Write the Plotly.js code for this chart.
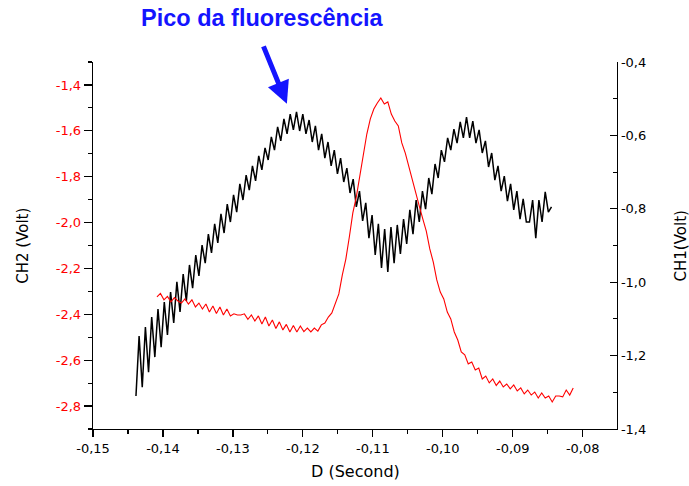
<!DOCTYPE html>
<html>
<head>
<meta charset="utf-8">
<script src="https://cdn.plot.ly/plotly-3.0.1.min.js"></script>
<style>
html,body{margin:0;padding:0;background:#fff;}
#chart{width:689px;height:486px;}
</style>
</head>
<body>
<div id="chart"></div>
<script>
// CH1 (black, right axis) – uniformly sampled
const ch1Start = -0.14386;
const ch1Step = 0.00045;
const ch1Values = [
-1.310,-1.147,-1.286,-1.122,-1.245,-1.095,-1.204,-1.073,-1.177,-1.054,
-1.144,-1.027,-1.111,-0.999,-1.081,-0.978,-1.051,-0.953,-1.016,-0.926,
-0.983,-0.899,-0.948,-0.869,-0.920,-0.841,-0.893,-0.814,-0.866,-0.787,
-0.836,-0.762,-0.809,-0.732,-0.776,-0.708,-0.749,-0.683,-0.724,-0.656,
-0.694,-0.634,-0.667,-0.604,-0.640,-0.577,-0.615,-0.555,-0.596,-0.542,
-0.585,-0.536,-0.588,-0.542,-0.596,-0.558,-0.618,-0.574,-0.640,-0.596,
-0.662,-0.618,-0.683,-0.640,-0.705,-0.662,-0.727,-0.689,-0.757,-0.719,
-0.795,-0.752,-0.833,-0.784,-0.880,-0.817,-0.926,-0.841,-0.961,-0.855,
-0.972,-0.850,-0.948,-0.844,-0.923,-0.828,-0.896,-0.803,-0.869,-0.776,
-0.836,-0.752,-0.801,-0.716,-0.760,-0.678,-0.716,-0.640,-0.672,-0.607,
-0.640,-0.583,-0.621,-0.563,-0.607,-0.550,-0.607,-0.561,-0.621,-0.585,
-0.648,-0.615,-0.686,-0.648,-0.722,-0.683,-0.752,-0.711,-0.779,-0.732,
-0.803,-0.752,-0.828,-0.773,-0.836,-0.836,-0.776,-0.880,-0.776,-0.836,
-0.754,-0.809,-0.795
];

// CH2 (red, left axis) – uniformly sampled
const ch2Start = -0.14086;
const ch2Step = 0.0005;
const ch2Values = [
-2.324,-2.309,-2.337,-2.322,-2.346,-2.327,-2.342,-2.351,-2.333,-2.355,
-2.337,-2.368,-2.351,-2.377,-2.355,-2.390,-2.364,-2.396,-2.368,-2.403,
-2.377,-2.407,-2.398,-2.403,-2.403,-2.398,-2.422,-2.403,-2.429,-2.407,
-2.442,-2.412,-2.451,-2.425,-2.462,-2.433,-2.468,-2.444,-2.477,-2.449,
-2.477,-2.451,-2.475,-2.460,-2.477,-2.460,-2.473,-2.446,-2.438,-2.412,
-2.394,-2.351,-2.311,-2.228,-2.159,-2.063,-1.958,-1.888,-1.797,-1.710,
-1.614,-1.548,-1.505,-1.479,-1.457,-1.483,-1.474,-1.527,-1.557,-1.579,
-1.653,-1.697,-1.758,-1.810,-1.875,-1.928,-1.984,-2.037,-2.115,-2.172,
-2.250,-2.303,-2.333,-2.390,-2.420,-2.477,-2.512,-2.564,-2.577,-2.616,
-2.608,-2.643,-2.634,-2.682,-2.669,-2.699,-2.682,-2.710,-2.691,-2.717,
-2.704,-2.725,-2.708,-2.734,-2.721,-2.747,-2.730,-2.752,-2.739,-2.765,
-2.743,-2.765,-2.756,-2.782,-2.756,-2.756,-2.760,-2.730,-2.752,-2.721
];

const xTickLabels = ['-0,15','-0,14','-0,13','-0,12','-0,11','-0,10','-0,09','-0,08'];
const leftTickLabels = ['-2,8','-2,6','-2,4','-2,2','-2,0','-1,8','-1,6','-1,4'];
const rightTickLabels = ['-1,4','-1,2','-1,0','-0,8','-0,6','-0,4'];

const xTitle = 'D (Second)';
const leftTitle = 'CH2 (Volt)';
const rightTitle = 'CH1(Volt)';
const noteText = 'Pico da fluorescência';

const ch1Time = ch1Values.map((_, i) => ch1Start + i * ch1Step);
const ch2Time = ch2Values.map((_, i) => ch2Start + i * ch2Step);

// plotly formats negatives with U+2212; alias them to the plain hyphen labels of the original
function alias(labels) {
  const o = {};
  labels.forEach(s => { o[s.replace('-', '\u2212')] = s; });
  return o;
}

const font = 'DejaVu Sans, sans-serif';

const traces = [
  {x: ch1Time, y: ch1Values, type: 'scatter', mode: 'lines', xaxis: 'x', yaxis: 'y',
   line: {color: '#000000', width: 1.5}, hoverinfo: 'skip'},
  {x: ch2Time, y: ch2Values, type: 'scatter', mode: 'lines', xaxis: 'x', yaxis: 'y2',
   line: {color: '#ff0000', width: 1.1}, hoverinfo: 'skip'}
];

const xr = [-0.15, -0.0751];
const layout = {
  width: 689, height: 486,
  margin: {l: 93, r: 72, t: 62, b: 57},
  paper_bgcolor: '#ffffff', plot_bgcolor: '#ffffff',
  showlegend: false,
  separators: ',.',
  font: {family: font, size: 13, color: '#000'},
  xaxis: {
    range: xr, dtick: 0.01, tick0: -0.15, tickformat: '.2f', labelalias: alias(xTickLabels),
    ticks: 'outside', ticklen: 7, tickwidth: 1.2, tickcolor: '#000',
    minor: {ticks: 'outside', ticklen: 4, dtick: 0.005, tickwidth: 1.2, tickcolor: '#000', showgrid: false},
    showline: true, linecolor: '#000', linewidth: 1.3,
    showgrid: false, zeroline: false,
    tickfont: {family: font, size: 13, color: '#000'}
  },
  xaxis2: {
    overlaying: 'x', side: 'top', anchor: 'y', range: xr, dtick: 0.01, tick0: -0.15,
    ticks: 'inside', ticklen: 7, tickwidth: 1.2, tickcolor: '#000',
    minor: {ticks: 'inside', ticklen: 4, dtick: 0.005, tickwidth: 1.2, tickcolor: '#000', showgrid: false},
    showline: true, linecolor: '#000', linewidth: 1.3,
    showticklabels: false, showgrid: false, zeroline: false
  },
  yaxis: {
    side: 'right', range: [-1.4, -0.4], dtick: 0.2, tick0: -1.4, tickformat: '.1f', labelalias: alias(rightTickLabels),
    ticks: 'inside', ticklen: 7, tickwidth: 1.2, tickcolor: '#000',
    minor: {ticks: 'inside', ticklen: 4, dtick: 0.1, tickwidth: 1.2, tickcolor: '#000', showgrid: false},
    showline: true, linecolor: '#000', linewidth: 1.3,
    showgrid: false, zeroline: false,
    tickfont: {family: font, size: 13, color: '#000'}
  },
  yaxis2: {
    overlaying: 'y', side: 'left', anchor: 'x', range: [-2.9, -1.3], dtick: 0.2, tick0: -2.8, tickformat: '.1f',
    labelalias: alias(leftTickLabels),
    ticks: 'outside', ticklen: 8, tickwidth: 1.2, tickcolor: '#000',
    minor: {ticks: 'outside', ticklen: 4, dtick: 0.1, tickwidth: 1.2, tickcolor: '#000', showgrid: false},
    showline: true, linecolor: '#000', linewidth: 1.3,
    showgrid: false, zeroline: false,
    tickfont: {family: font, size: 13, color: '#ff0000'}
  },
  annotations: [
    {text: xTitle, xref: 'paper', yref: 'paper', x: 0.5, y: -0.117, xanchor: 'center', yanchor: 'middle',
     showarrow: false, font: {family: font, size: 16, color: '#000'}},
    {text: leftTitle, xref: 'paper', yref: 'paper', x: -0.135, y: 0.5, xanchor: 'center', yanchor: 'middle',
     textangle: -90, showarrow: false, font: {family: font, size: 15, color: '#000'}},
    {text: rightTitle, xref: 'paper', yref: 'paper', x: 1.122, y: 0.5, xanchor: 'center', yanchor: 'middle',
     textangle: -90, showarrow: false, font: {family: font, size: 15, color: '#000'}},
    {text: '<b>' + noteText + '</b>', xref: 'paper', yref: 'paper', x: 0.323, y: 1.12, xanchor: 'center', yanchor: 'middle',
     showarrow: false, font: {family: 'Liberation Sans, Arial, sans-serif', size: 23.5, color: '#1414ff'}},
    {text: '', xref: 'paper', yref: 'paper', x: 0.370, y: 0.886, showarrow: true,
     ax: -24, ay: -59, arrowhead: 2, arrowsize: 0.9, arrowwidth: 5, arrowcolor: '#1414ff'}
  ]
};

Plotly.newPlot('chart', traces, layout, {staticPlot: true, displayModeBar: false});
</script>
</body>
</html>
